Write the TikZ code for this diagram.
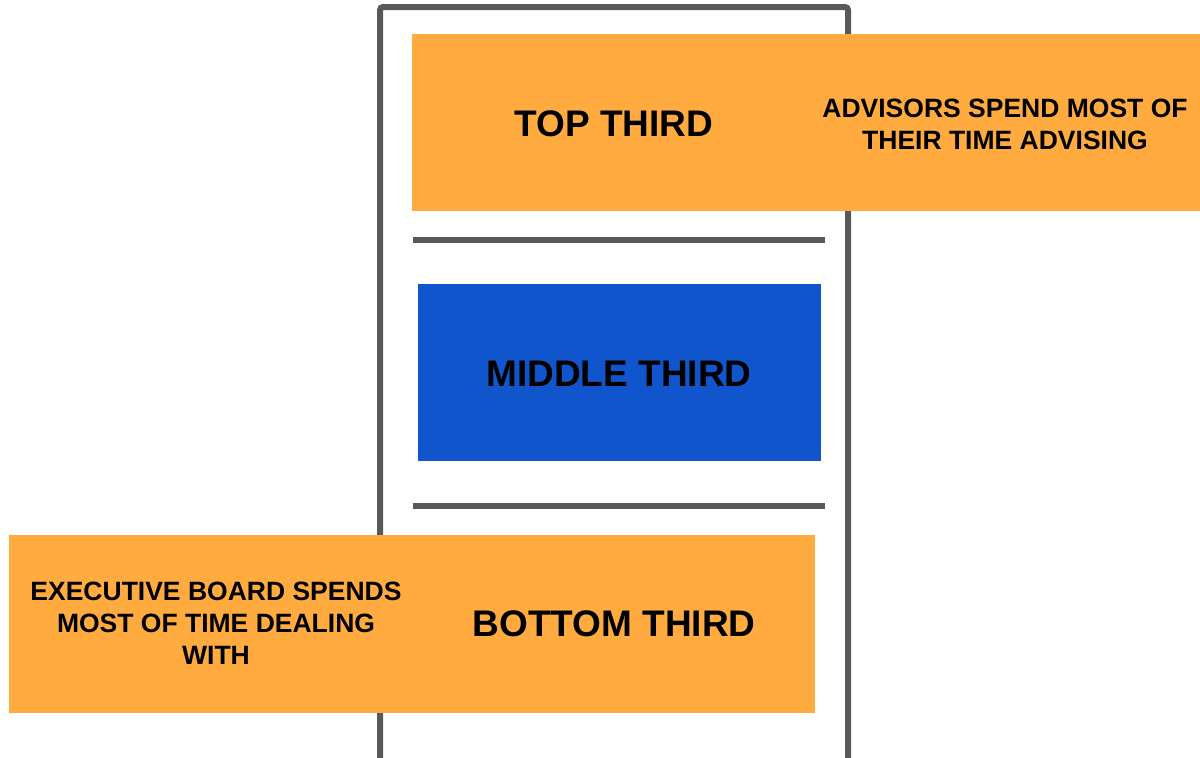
\documentclass[tikz,border=0pt]{standalone}
\usepackage{fontspec}
\setmainfont{Liberation Sans}
\definecolor{boxorange}{HTML}{FFAB40}
\definecolor{boxblue}{HTML}{1155CC}
\definecolor{framegray}{HTML}{595959}
\tikzset{
  band/.style={rectangle, inner sep=0pt, draw=none},
  bigtext/.style={font=\bfseries\fontsize{37}{40}\selectfont},
  smalltext/.style={font=\bfseries\fontsize{26.5}{32}\selectfont, align=center}
}
\begin{document}
\begin{tikzpicture}[x=1pt,y=-1pt]
  \useasboundingbox (0,0) rectangle (1200,758);
  \draw[framegray, line width=6pt, rounded corners=3pt] (380,7) rectangle (848,790);
  \begin{scope}[framegray, line width=6pt]
    \draw (413,240) -- (825,240);
    \draw (413,506) -- (825,506);
  \end{scope}
  \node[band, fill=boxorange, minimum width=788pt, minimum height=177pt] (top) at (806,122.5) {};
  \node[band, fill=boxblue, minimum width=403pt, minimum height=177pt] (middle) at (619.5,372.5) {};
  \node[band, fill=boxorange, minimum width=806pt, minimum height=178pt] (bottom) at (412,624) {};
  \draw
    (614,124) node[bigtext] (toplabel){TOP THIRD}
    (1005,124) node[smalltext] (topnote){ADVISORS SPEND MOST OF\\THEIR TIME ADVISING}
    (619,374) node[bigtext] (middlelabel){MIDDLE THIRD}
    (614,624) node[bigtext] (bottomlabel){BOTTOM THIRD}
    (216,623) node[smalltext] (bottomnote){EXECUTIVE BOARD SPENDS\\MOST OF TIME DEALING\\WITH};
\end{tikzpicture}
\end{document}
